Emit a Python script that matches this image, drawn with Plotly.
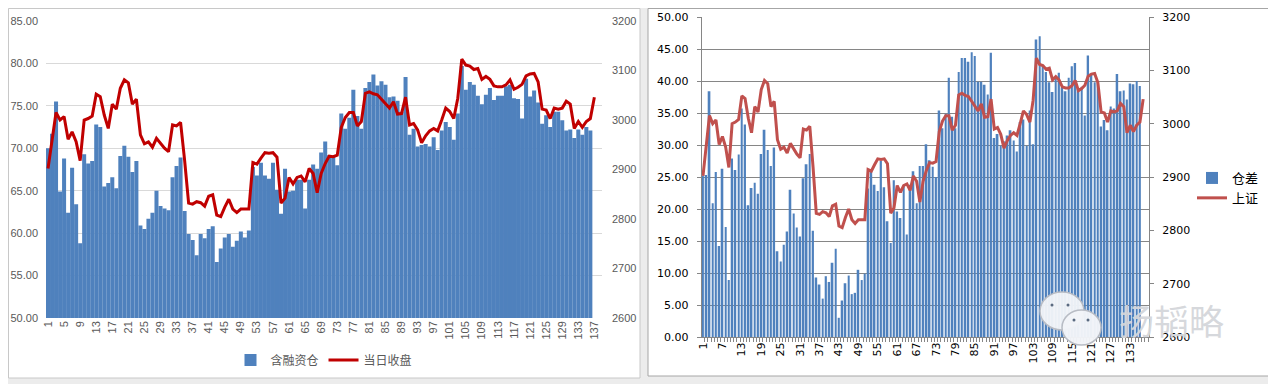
import plotly.graph_objects as go

# page body has an 8px margin, so the figure is sized to fit the window after it
OFF = 8
W, H = 1276 - OFF, 384 - OFF

days = list(range(1, 138))

# 含融资仓 (left chart bars) – day 137 has no bar
margin_pos = [
    70.0, 71.7, 75.5, 64.9, 68.8, 62.4, 67.7, 63.4, 58.8, 69.3,
    68.2, 68.5, 72.8, 72.5, 65.5, 65.9, 66.6, 65.3, 69.1, 70.3,
    69.0, 67.2, 68.5, 60.9, 60.5, 61.7, 62.4, 65.0, 63.2, 62.9,
    62.7, 66.6, 67.9, 68.9, 62.6, 59.9, 59.2, 57.4, 59.9, 59.4,
    60.5, 60.8, 56.6, 58.2, 59.5, 59.9, 58.4, 59.1, 60.2, 59.5,
    60.3, 67.8, 66.8, 68.3, 66.8, 66.4, 68.3, 65.1, 62.3, 67.6,
    64.9, 65.0, 66.3, 66.3, 62.9, 66.3, 68.1, 67.6, 69.5, 70.8,
    69.2, 69.0, 68.0, 74.1, 72.3, 73.6, 76.9, 73.8, 72.3, 77.1,
    77.8, 78.7, 77.4, 77.9, 77.5, 76.0, 76.1, 75.6, 74.3, 78.4,
    71.6, 72.3, 70.2, 70.4, 70.5, 70.2, 71.3, 69.8, 72.1, 73.1,
    72.5, 71.0, 74.1, 79.7, 76.9, 77.8, 77.5, 76.2, 75.2, 76.3,
    77.1, 75.7, 76.2, 76.2, 77.3, 77.5, 75.9, 75.8, 73.5, 78.2,
    76.1, 76.8, 75.4, 72.9, 73.9, 72.5, 74.3, 74.3, 73.3, 72.1,
    72.2, 71.2, 72.2, 71.6, 72.5, 72.1, None,
]

# 仓差 (right chart bars) – day 137 has no bar
pos_diff = [
    25.2, 25.3, 38.4, 20.9, 25.8, 14.2, 26.3, 17.2, 8.9, 27.9,
    26.1, 28.5, 35.7, 33.2, 20.6, 23.3, 24.1, 22.4, 28.6, 32.4,
    29.2, 26.7, 29.6, 13.4, 11.8, 14.4, 16.5, 23.0, 19.3, 17.1,
    15.7, 24.8, 27.0, 28.6, 16.6, 9.3, 8.2, 6.0, 9.5, 8.6,
    11.6, 13.8, 3.0, 5.7, 8.4, 9.6, 6.7, 6.9, 10.5, 8.9,
    9.9, 23.2, 26.0, 23.8, 22.8, 27.5, 23.4, 18.1, 14.7, 24.5,
    19.6, 18.6, 23.5, 16.0, 23.8, 25.9, 20.9, 26.7, 26.7, 30.1,
    27.6, 26.6, 25.0, 35.4, 32.6, 34.9, 40.5, 34.4, 32.6, 41.4,
    43.6, 43.6, 43.0, 44.5, 43.9, 39.9, 39.9, 39.4, 37.9, 44.4,
    31.1, 31.7, 29.9, 30.6, 31.5, 32.3, 30.7, 29.0, 33.6, 34.0,
    29.9, 35.4, 30.1, 46.5, 47.0, 42.4, 41.4, 39.8, 38.3, 40.6,
    41.3, 39.0, 38.4, 40.5, 42.3, 42.8, 38.8, 39.1, 34.6, 44.0,
    41.1, 39.8, 39.8, 32.9, 33.9, 32.3, 36.0, 35.7, 41.1, 38.4,
    38.5, 37.1, 39.6, 39.5, 40.0, 39.2, None,
]

# 当日收盘 / 上证 (index close, shared by both charts)
sh_close = [
    2902, 2960, 3015, 3000, 3007, 2961, 2976, 2956, 2918, 3000,
    3003, 3008, 3052, 3047, 3010, 2983, 3032, 3022, 3064, 3081,
    3075, 3032, 3042, 2970, 2952, 2956, 2945, 2963, 2952, 2943,
    2936, 2990, 2988, 2995, 2919, 2832, 2830, 2835, 2833, 2826,
    2846, 2849, 2808, 2805, 2824, 2840, 2820, 2813, 2820, 2820,
    2820, 2914, 2911, 2923, 2934, 2933, 2934, 2925, 2832, 2842,
    2884, 2871, 2884, 2887, 2875, 2902, 2892, 2853, 2892, 2912,
    2927, 2926, 2929, 2985, 3005, 3015, 3015, 2988, 2997, 3054,
    3057, 3053, 3051, 3042, 3032, 3024, 3037, 3012, 3013, 3046,
    2990, 2993, 2980, 2954, 2968, 2978, 2983, 2978, 3000, 3024,
    3017, 3003, 3044, 3123, 3111, 3109, 3102, 3104, 3082, 3088,
    3082, 3069, 3067, 3067, 3071, 3081, 3062, 3066, 3072, 3089,
    3093, 3094, 3077, 3022, 3020, 3003, 3024, 3022, 3024, 3038,
    3032, 2983, 2997, 2985, 2997, 3003, 3046,
]

left_ticks = list(range(1, 138, 4))
right_ticks = list(range(1, 134, 6))

BLUE = "#4F81BD"
FONT_L = "Liberation Sans, Noto Sans CJK SC, sans-serif"
FONT_R = "DejaVu Sans, Noto Sans CJK SC, sans-serif"
CJK = "Noto Sans CJK SC, sans-serif"


def px(x):
    return (x - OFF) / W


def py(y):
    return 1 - (y - OFF) / H


fig = go.Figure()

# ---- left chart ----
fig.add_trace(go.Bar(x=days, y=margin_pos, name="含融资仓", marker=dict(color=BLUE, line=dict(width=0)),
                     width=1.0, xaxis="x", yaxis="y", legend="legend"))
fig.add_trace(go.Scatter(x=days, y=sh_close, name="当日收盘", mode="lines",
                         line=dict(color="#C00000", width=3), xaxis="x", yaxis="y2", legend="legend"))

# ---- right chart ----
fig.add_trace(go.Bar(x=days, y=pos_diff, name="仓差", marker=dict(color=BLUE, line=dict(width=0)),
                     width=0.55, xaxis="x2", yaxis="y3", legend="legend2"))
fig.add_trace(go.Scatter(x=days, y=sh_close, name="上证", mode="lines",
                         line=dict(color="#C0504D", width=3), xaxis="x2", yaxis="y4", legend="legend2"))

shapes = [
    # left panel frame
    dict(type="rect", xref="paper", yref="paper", x0=px(8.5), x1=px(640), y0=py(378), y1=py(8.5),
         line=dict(color="#c8c8c8", width=1), fillcolor="white", layer="below"),
    # right panel frame
    dict(type="rect", xref="paper", yref="paper", x0=px(648), x1=px(1272), y0=py(376), y1=py(8.5),
         line=dict(color="#a6a6a6", width=1), fillcolor="white", layer="below"),
]

# watermark (WeChat-like icon)
shapes += [
    dict(type="circle", xref="paper", yref="paper", x0=px(1040), x1=px(1084), y0=py(330), y1=py(292),
         line=dict(color="#b8bcc4", width=1.5), fillcolor="rgba(242,244,248,0.95)"),
    dict(type="circle", xref="paper", yref="paper", x0=px(1062), x1=px(1101), y0=py(345), y1=py(310),
         line=dict(color="#b8bcc4", width=1.5), fillcolor="rgba(242,244,248,0.97)"),
]
for cx, cy in [(1052, 305), (1068, 305), (1074, 320), (1088, 320)]:
    shapes.append(dict(type="circle", xref="paper", yref="paper", x0=px(cx - 1.5), x1=px(cx + 1.5),
                       y0=py(cy + 1.5), y1=py(cy - 1.5), line=dict(width=0), fillcolor="#5a6a80"))

annotations = [
    dict(text="扬韬略", x=px(1171), y=py(319), xref="paper", yref="paper", showarrow=False,
         xanchor="center", yanchor="middle",
         font=dict(family=CJK, size=35, color="rgba(212,214,218,0.95)")),
]

fig.update_layout(
    width=W, height=H, autosize=False,
    margin=dict(l=0, r=0, t=0, b=0, pad=0),
    paper_bgcolor="#ececec", plot_bgcolor="rgba(0,0,0,0)",
    showlegend=True,
    shapes=shapes, annotations=annotations,
    xaxis=dict(domain=[px(46), px(602)], range=[0.5, 138.9], tickmode="array", tickvals=left_ticks,
               ticktext=[str(v) for v in left_ticks], tickangle=-90, showgrid=False, showline=False,
               ticks="", zeroline=False, anchor="y", automargin=False,
               tickfont=dict(family=FONT_L, size=11, color="#595959")),
    yaxis=dict(domain=[py(318), py(21)], range=[50, 85], dtick=5, tickformat=".2f",
               gridcolor="#d9d9d9", gridwidth=1, zeroline=False, showline=False, anchor="x",
               automargin=False,
               tickfont=dict(family=FONT_L, size=11, color="#595959"), ticklabelstandoff=7),
    yaxis2=dict(overlaying="y", side="right", range=[2600, 3200], dtick=100, showgrid=False,
                zeroline=False, anchor="x", showline=False, automargin=False,
                tickfont=dict(family=FONT_L, size=11, color="#595959"), ticklabelstandoff=9),
    xaxis2=dict(domain=[px(701.7), px(1149)], range=[0.6, 138.8], tickmode="array", tickvals=right_ticks,
                ticktext=[str(v) for v in right_ticks], tickangle=-90, showgrid=False,
                showline=True, linecolor="#868686", linewidth=1, ticks="", zeroline=False, anchor="y3",
                automargin=False,
                minor=dict(ticks="outside", tick0=0.5, dtick=1, ticklen=4, tickcolor="#868686"),
                tickfont=dict(family=FONT_R, size=11, color="#000000")),
    yaxis3=dict(domain=[py(337), py(17)], range=[0, 50], dtick=5, tickformat=".2f",
                gridcolor="#868686", gridwidth=1, zeroline=False, showline=True, linecolor="#868686",
                ticks="outside", ticklen=4, tickcolor="#868686", anchor="x2", automargin=False,
                tickfont=dict(family=FONT_R, size=11, color="#000000"), ticklabelstandoff=6),
    yaxis4=dict(overlaying="y3", side="right", range=[2600, 3200], dtick=100, showgrid=False,
                zeroline=False, showline=True, linecolor="#868686", ticks="outside", ticklen=4,
                tickcolor="#868686", anchor="x2", automargin=False,
                tickfont=dict(family=FONT_R, size=11, color="#000000"), ticklabelstandoff=6),
    legend=dict(orientation="h", x=px(324), y=py(360), xanchor="center", yanchor="middle",
                bgcolor="rgba(0,0,0,0)", font=dict(family=CJK, size=12, color="#595959"),
                itemwidth=30, traceorder="normal"),
    legend2=dict(orientation="v", x=px(1192), y=py(188), xanchor="left", yanchor="middle",
                 bgcolor="rgba(0,0,0,0)", font=dict(family=CJK, size=13, color="#000000"),
                 itemwidth=30, tracegroupgap=8),
)

fig.write_html("out.html")
